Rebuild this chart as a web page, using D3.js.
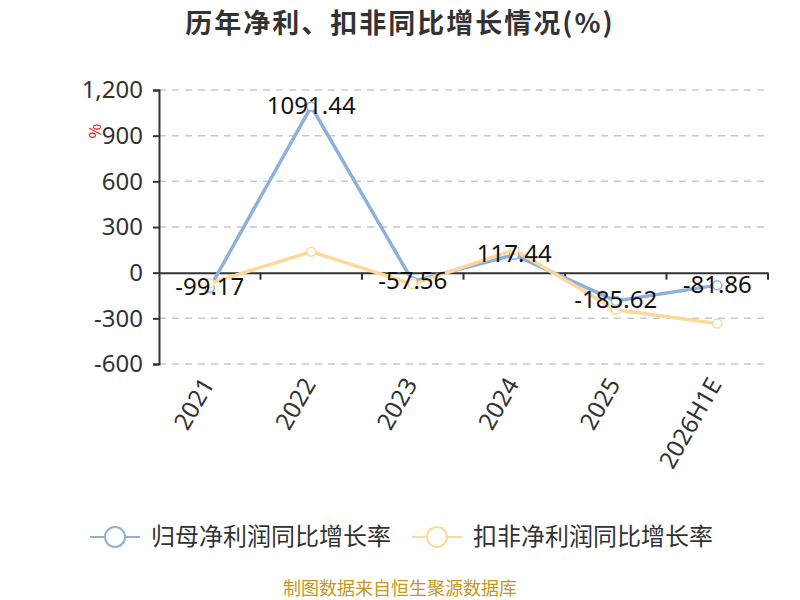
<!DOCTYPE html>
<html>
<head>
<meta charset="utf-8">
<script src="https://cdn.jsdelivr.net/npm/d3@7"></script>
<style>
  body { margin: 0; background: #fff; }
  text { font-family: "Noto Sans CJK SC", "Noto Sans", sans-serif; }
</style>
</head>
<body>
<div id="viz"></div>
<script>
// categories and series values
var years = ["2021", "2022", "2023", "2024", "2025", "2026H1E"];
var netGrowth = [-99.17, 1091.44, -57.56, 117.44, -185.62, -81.86];
var deductedGrowth = [-70, 138, -75, 150, -244, -334];
var yTicks = [-600, -300, 0, 300, 600, 900, 1200];
var seriesNames = ["归母净利润同比增长率", "扣非净利润同比增长率"];
var seriesColors = ["#8eb0dc", "#fdd89a"];

var width = 800, height = 600;
var margin = {top: 90, right: 32, bottom: 236, left: 159};

var svg = d3.select("#viz").append("svg")
  .attr("width", width)
  .attr("height", height);

// title
svg.append("text")
  .attr("x", 400).attr("y", 33)
  .attr("text-anchor", "middle")
  .style("font-size", "27px")
  .style("font-weight", "bold")
  .style("letter-spacing", "2px")
  .style("fill", "#333")
  .text("历年净利、扣非同比增长情况(%)");

var x = d3.scaleBand()
  .domain(years)
  .range([margin.left, width - margin.right]);

// 1200 -> 90, -600 -> 364
var y = d3.scaleLinear()
  .domain([-600, 1200])
  .range([364, margin.top]);

// dashed grid lines
svg.append("g")
  .selectAll("line")
  .data(yTicks.filter(function(d) { return d != 0; }))
  .enter().append("line")
  .attr("x1", margin.left).attr("x2", width - margin.right)
  .attr("y1", function(d) { return y(d); })
  .attr("y2", function(d) { return y(d); })
  .attr("stroke", "#c8c8c8")
  .attr("stroke-width", 1.5)
  .attr("stroke-dasharray", "7,6");

// y axis (plain hyphen for negatives, like the original)
var fmt = d3.format(",");
var yAxis = svg.append("g")
  .attr("transform", "translate(" + margin.left + ",0)")
  .call(d3.axisLeft(y).tickValues(yTicks).tickSize(6).tickPadding(10)
    .tickFormat(function(d) { return fmt(d).replace("\u2212", "-"); }));
yAxis.select(".domain").attr("stroke", "#333").attr("stroke-width", 2);
yAxis.selectAll(".tick line").attr("stroke", "#333").attr("stroke-width", 2);
yAxis.selectAll("text")
  .style("font-size", "24px")
  .style("fill", "#333")
  .style("font-family", "'Noto Sans', sans-serif");

// unit label
svg.append("text")
  .attr("transform", "translate(101,131) rotate(-90)")
  .attr("text-anchor", "middle")
  .style("font-size", "16px")
  .style("fill", "#e00")
  .text("%");

// x axis at zero
var xAxis = svg.append("g")
  .attr("transform", "translate(0," + y(0) + ")")
  .call(d3.axisBottom(x).tickSize(0).tickFormat(""));
xAxis.select(".domain").attr("stroke", "#333").attr("stroke-width", 2);

// band boundary ticks
svg.append("g")
  .selectAll("line")
  .data(years)
  .enter().append("line")
  .attr("x1", function(d) { return x(d) + x.bandwidth(); })
  .attr("x2", function(d) { return x(d) + x.bandwidth(); })
  .attr("y1", y(0)).attr("y2", y(0) + 7)
  .attr("stroke", "#333").attr("stroke-width", 2);

// rotated category labels
svg.append("g")
  .selectAll("text")
  .data(years)
  .enter().append("text")
  .attr("transform", function(d) {
    return "translate(" + (x(d) + x.bandwidth() / 2 - 2) + ",380) rotate(-60)";
  })
  .attr("text-anchor", "end")
  .attr("dy", "0.35em")
  .style("font-size", "24px")
  .style("fill", "#333")
  .style("font-family", "'Noto Sans', sans-serif")
  .text(function(d) { return d; });

var cx = function(d, i) { return x(years[i]) + x.bandwidth() / 2; };
var line = d3.line()
  .x(function(d, i) { return cx(d, i); })
  .y(function(d) { return y(d); });

[netGrowth, deductedGrowth].forEach(function(series, s) {
  svg.append("path")
    .datum(series)
    .attr("d", line)
    .attr("fill", "none")
    .attr("stroke", seriesColors[s])
    .attr("stroke-width", 3.5);
});

[netGrowth, deductedGrowth].forEach(function(series, s) {
  svg.append("g")
    .selectAll("circle")
    .data(series)
    .enter().append("circle")
    .attr("cx", cx)
    .attr("cy", function(d) { return y(d); })
    .attr("r", 4.5)
    .attr("fill", "#fff")
    .attr("stroke", seriesColors[s])
    .attr("stroke-width", 1.5);
});

// value labels for the net profit series
svg.append("g")
  .selectAll("text")
  .data(netGrowth)
  .enter().append("text")
  .attr("x", cx)
  .attr("y", function(d) { return y(d) - 1; })
  .attr("text-anchor", "middle")
  .attr("dy", "0.35em")
  .style("font-size", "24px")
  .style("fill", "#111")
  .style("font-family", "'Noto Sans', sans-serif")
  .text(function(d) { return d; });

// legend
var legend = svg.append("g");
var legendX = [90, 412];
seriesNames.forEach(function(name, i) {
  var g = legend.append("g").attr("transform", "translate(" + legendX[i] + ",537)");
  g.append("line").attr("x1", 0).attr("x2", 50)
    .attr("stroke", seriesColors[i]).attr("stroke-width", 2);
  g.append("circle").attr("cx", 25).attr("r", 10)
    .attr("fill", "#fff").attr("stroke", seriesColors[i]).attr("stroke-width", 2);
  g.append("text").attr("x", 61).attr("dy", "0.35em")
    .style("font-size", "24px").style("fill", "#333")
    .text(name);
});

// source
svg.append("text")
  .attr("x", 400).attr("y", 595)
  .attr("text-anchor", "middle")
  .style("font-size", "18px")
  .style("fill", "#c8961e")
  .text("制图数据来自恒生聚源数据库");
</script>
</body>
</html>
